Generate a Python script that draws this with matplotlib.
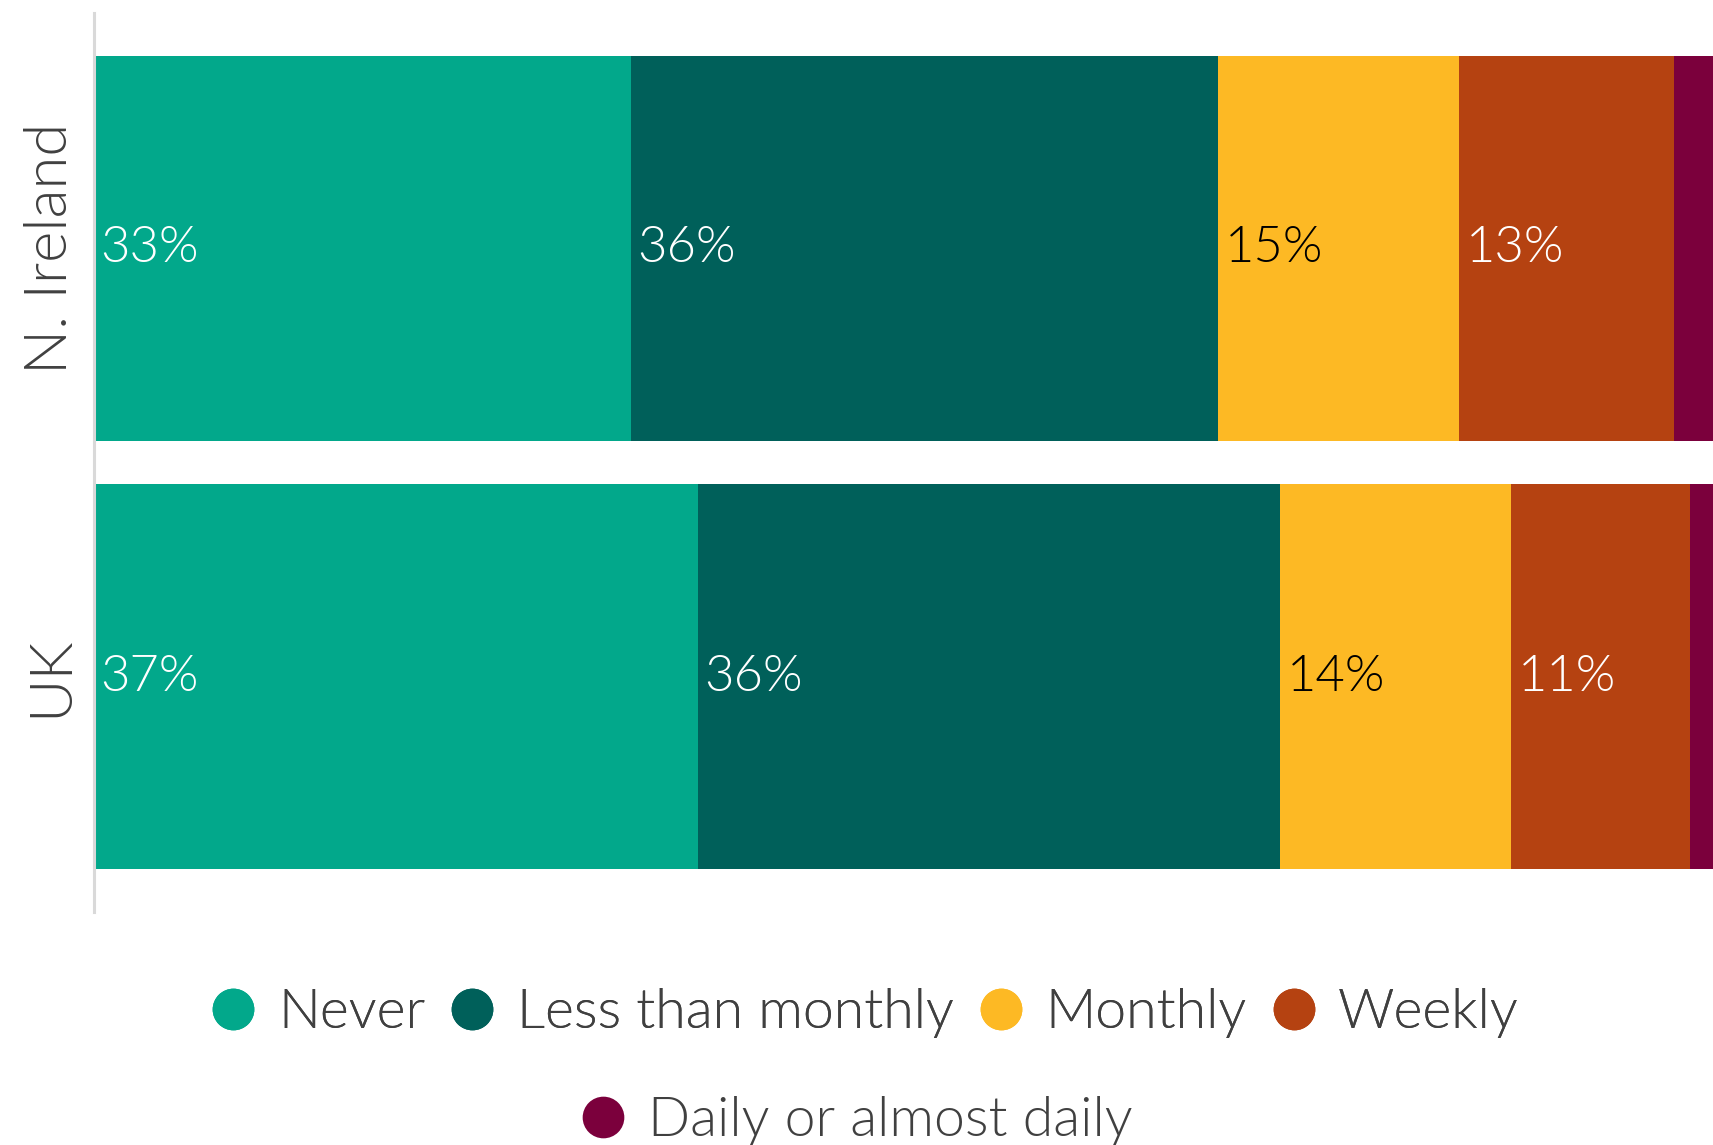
import matplotlib
matplotlib.use("Agg")
import matplotlib.pyplot as plt
from matplotlib.lines import Line2D

# 데이터 (그림에서 읽은 값, %)
countries = ["UK", "N. Ireland"]
categories = ["Never", "Less than monthly", "Monthly", "Weekly", "Daily or almost daily"]
uk = [37.1, 35.8, 14.2, 11.0, 1.9]
ni = [33.0, 36.1, 14.8, 13.2, 2.9]
colors = ["#02a88b", "#00605a", "#fdb924", "#b54211", "#7b003c"]
label_colors = ["white", "white", "black", "white", None]

plt.rcParams["font.family"] = ["Lato", "DejaVu Sans"]
WEIGHT = 300

W, H = 1713, 1145
fig = plt.figure(figsize=(W / 100, H / 100), dpi=100)
# 축 범위: 왼쪽 선 x=94, 100% 지점은 그림 밖(약 1721px)
left, right = 94 / W, 1721 / W
top, bottom = 1 - 13 / H, 1 - 912 / H
ax = fig.add_axes([left, bottom, right - left, top - bottom])

series = [uk, ni]
for i, vals in enumerate(series):
    start = 0
    for j, v in enumerate(vals):
        ax.barh(i, v, left=start, height=0.90, color=colors[j], linewidth=0)
        if label_colors[j] is not None:
            ax.text(start + 0.4, i, f"{round(v)}%", color=label_colors[j],
                    fontsize=36.5, va="center", ha="left", fontweight=WEIGHT)
        start += v

ax.set_xlim(0, 100)
ax.set_ylim(-0.55, 1.55)
ax.set_yticks(range(len(countries)))
ax.set_yticklabels(countries, rotation=90, va="center", fontsize=43,
                   color="#404040", fontweight=WEIGHT)
ax.tick_params(axis="y", length=0, pad=12)
ax.set_xticks([])
for s in ["top", "right", "bottom"]:
    ax.spines[s].set_visible(False)
ax.spines["left"].set_color("#d9d9d9")
ax.spines["left"].set_linewidth(2.2)

handles = [Line2D([], [], marker="o", linestyle="none", markersize=30,
                  markerfacecolor=c, markeredgewidth=0) for c in colors]
leg_kw = dict(frameon=False, handlelength=0.8, handletextpad=0.4,
              columnspacing=0.45, loc="center", labelcolor="#404040",
              prop={"size": 40, "weight": WEIGHT})
leg1 = fig.legend(handles[:4], categories[:4], ncol=4,
                  bbox_to_anchor=(0.505, 1 - 1013 / H), **leg_kw)
fig.add_artist(leg1)
fig.legend(handles[4:], categories[4:], ncol=1,
           bbox_to_anchor=(0.5, 1 - 1121 / H), **leg_kw)

fig.savefig("out.png", dpi=100)
